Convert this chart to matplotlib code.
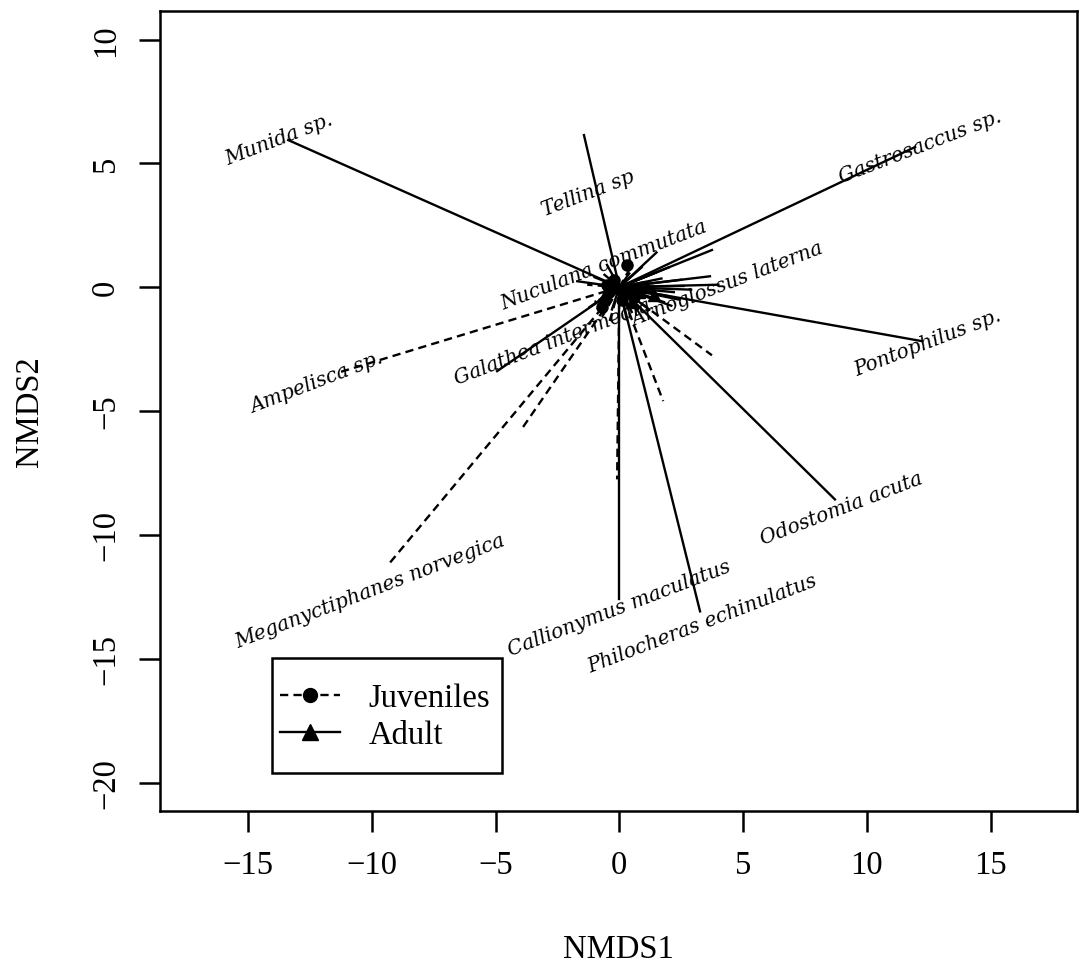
import matplotlib
matplotlib.use("Agg")
import matplotlib.pyplot as plt
from matplotlib.lines import Line2D
from matplotlib.patches import Rectangle

# Species vectors (end points, NMDS1/NMDS2), drawn from the origin
juv_x = [-11.29, -9.39, -4.01, -0.09, 1.77, 3.74,
         -1.0, -0.7, 0.8, 1.2, -1.3, 0.4, -0.4, 1.6, -0.9, 0.6]
juv_y = [-3.43, -11.27, -5.82, -7.76, -4.60, -2.75,
         -0.6, -1.2, -0.9, 0.5, 0.1, 0.7, -1.4, -0.3, -0.9, -0.5]

adult_x = [-13.38, -1.43, -4.94, 0.00, 3.26, 8.71, 12.23, 11.95,
           3.74, 3.66, 4.00, -1.70, 1.50,
           2.5, 2.2, 1.8, 2.4, 1.5, 1.2, -1.0, -0.8, 0.5, -0.5, 0.9,
           2.9, 1.0, -1.2, 0.3, 2.0, -0.3, 1.9, 1.4, 2.6, -0.6, 0.7,
           1.7, 2.1, -0.7, 1.1, 0.4]
adult_y = [5.94, 6.14, -3.39, -12.60, -13.09, -8.57, -2.18, 5.66,
           1.50, 0.44, 0.10, 0.24, 1.40,
           0.3, -0.2, -0.6, -0.5, 0.6, -0.9, 0.4, -0.5, -1.0, 0.9, 0.8,
           -0.1, 0.2, -0.8, -1.3, 0.8, -0.9, -0.35, -0.45, 0.05, 0.5, -0.6,
           0.35, -0.75, 0.1, 0.45, 0.55]

# centroid points near the origin
juv_pts_x = [-0.4, 0.3, -0.7, 0.6, -0.2, 0.1, -0.5]
juv_pts_y = [-0.2, 0.9, -0.8, -0.4, 0.3, -0.5, 0.1]
adult_pts_x = [0.2, -0.3, 0.8, 0.5, 1.1, -0.6, 0.3, 1.4]
adult_pts_y = [0.1, 0.3, -0.2, -0.6, 0.0, -0.3, -0.2, -0.3]

label_names = ["Munida sp.", "Tellina sp", "Nuculana commutata",
               "Arnoglossus laterna", "Galathea intermedia", "Ampelisca sp.",
               "Gastrosaccus sp.", "Pontophilus sp.", "Odostomia acuta",
               "Callionymus maculatus", "Philocheras echinulatus",
               "Meganyctiphanes norvegica"]
label_x = [-13.74, -1.26, -0.62, 4.35, -2.7, -12.24,
           12.14, 12.47, 8.99, 0.0, 3.35, -10.06]
label_y = [5.98, 3.80, 0.93, 0.16, -2.2, -3.84,
           5.70, -2.22, -8.93, -12.93, -13.58, -12.24]

xticks = [-15, -10, -5, 0, 5, 10, 15]
yticks = [-20, -15, -10, -5, 0, 5, 10]

SERIF = "Liberation Serif"
DASH = (0, (3.5, 2.2))

fig = plt.figure(figsize=(10.81, 9.78), dpi=100)
ax = fig.add_axes([0.148, 0.170, 0.8483, 0.8177])
ax.set_xlim(-18.56, 18.49)
ax.set_ylim(-21.14, 11.15)

for x, y in zip(juv_x, juv_y):
    ax.plot([0, x], [0, y], color="black", lw=1.7, ls=DASH)
for x, y in zip(adult_x, adult_y):
    ax.plot([0, x], [0, y], color="black", lw=1.7, ls="-")

ax.plot(juv_pts_x, juv_pts_y, "o", color="black", ms=8, ls="none")
ax.plot(adult_pts_x, adult_pts_y, "^", color="black", ms=9, ls="none")

for name, x, y in zip(label_names, label_x, label_y):
    ax.text(x, y, name, rotation=21, ha="center", va="center",
            rotation_mode="anchor", fontsize=14.5, style="italic",
            family="DejaVu Serif")

# axes styling, R base-graphics look
for sp in ax.spines.values():
    sp.set_linewidth(1.8)
ax.set_xticks(xticks)
ax.set_yticks(yticks)
ax.set_xticklabels([str(t).replace("-", "\u2212") for t in xticks],
                   fontsize=23.5, family=SERIF)
ax.set_yticklabels([str(t).replace("-", "\u2212") for t in yticks],
                   fontsize=23.5, family=SERIF, rotation=90, va="center")
ax.tick_params(length=15, width=1.8, pad=13)

ax.set_xlabel("NMDS1", fontsize=23.5, family=SERIF, va="center")
ax.set_ylabel("NMDS2", fontsize=23.5, family=SERIF, va="center")
ax.xaxis.set_label_coords(0.5, -0.173)
ax.yaxis.set_label_coords(-0.142, 0.5)

# legend
handles = [Line2D([], [], color="black", lw=1.7, ls=DASH,
                  marker="o", ms=10),
           Line2D([], [], color="black", lw=1.7, ls="-",
                  marker="^", ms=12)]
leg = ax.legend(handles, ["Juveniles", "Adult"], loc="center left",
                bbox_to_anchor=(0.131, 0.118), frameon=False,
                borderpad=0, borderaxespad=0, handlelength=1.85,
                handletextpad=0.85, labelspacing=0.2, numpoints=1,
                prop={"family": SERIF, "size": 23.5})
ax.add_patch(Rectangle((0.122, 0.047), 0.251, 0.144, transform=ax.transAxes,
                       fill=False, ec="black", lw=1.8, zorder=4))

fig.savefig("out.png", dpi=100)
